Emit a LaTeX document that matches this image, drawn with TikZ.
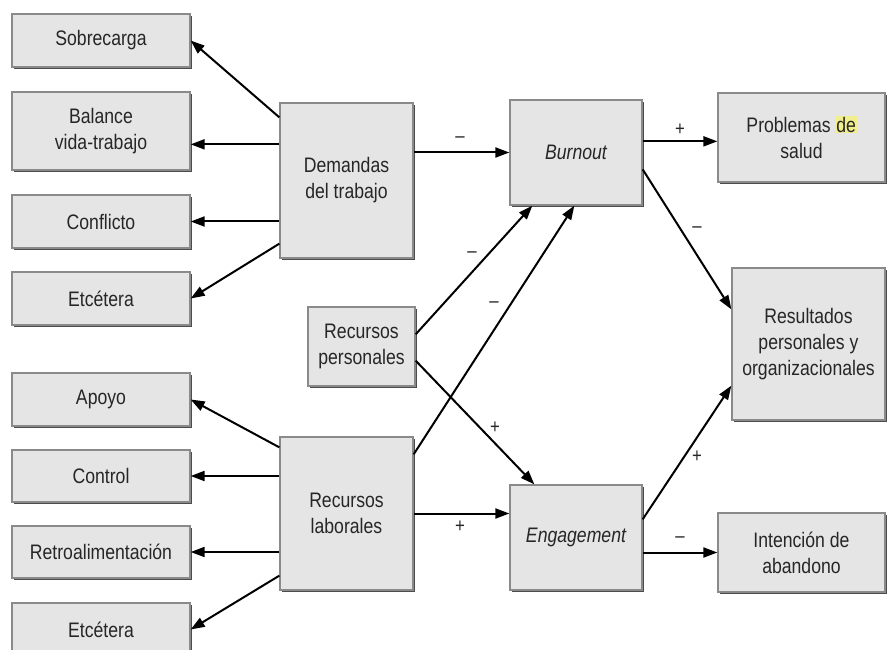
\documentclass[tikz,border=0pt]{standalone}
\usepackage{fontspec}
\setmainfont[FakeStretch=0.84]{Liberation Sans}
\usetikzlibrary{arrows.meta,shadows,calc}
\definecolor{boxfill}{HTML}{E5E5E5}
\definecolor{boxline}{HTML}{8A8A8A}
\definecolor{hl}{HTML}{F2EE8C}
\begin{document}
\begin{tikzpicture}[x=1pt,y=-1pt,
  box/.style={draw=boxline, line width=1.3pt, fill=boxfill, inner sep=0pt, align=center,
    font=\fontsize{21}{26}\selectfont, text=black!85,
    drop shadow={shadow xshift=2.2pt, shadow yshift=-2.2pt, fill=black!70, opacity=1}},
  arr/.style={-{Triangle[length=14pt,width=10pt]}, line width=2pt},
  sg/.style={font=\fontsize{20}{20}\selectfont, inner sep=0pt, text=black!85}]
\useasboundingbox[fill=white] (0,0) rectangle (887,650);
% left column
\node[box, minimum width=178pt, minimum height=53pt] (sob) at (101,40.5) {Sobrecarga};
\node[box, minimum width=178pt, minimum height=78pt] (bal) at (101,131) {Balance\\vida-trabajo};
\node[box, minimum width=178pt, minimum height=53pt] (conf) at (101,221.5) {Conflicto};
\node[box, minimum width=178pt, minimum height=53pt] (etc1) at (101,298.5) {Etcétera};
\node[box, minimum width=178pt, minimum height=53pt] (apoyo) at (101,399.5) {Apoyo};
\node[box, minimum width=178pt, minimum height=52pt] (ctrl) at (101,476) {Control};
\node[box, minimum width=178pt, minimum height=52pt] (retro) at (101,552) {Retroalimentación};
\node[box, minimum width=178pt, minimum height=53pt] (etc2) at (101,629.5) {Etcétera};
% middle
\node[box, minimum width=133pt, minimum height=155pt] (dem) at (346.5,180.5) {Demandas\\del trabajo};
\node[box, minimum width=107pt, minimum height=79pt] (rp) at (361.5,346.5) {Recursos\\personales};
\node[box, minimum width=133pt, minimum height=153pt] (rl) at (346.5,513.5) {Recursos\\laborales};
\node[box, minimum width=132pt, minimum height=105pt] (burn) at (576,152.5) {\itshape Burnout};
\node[box, minimum width=132pt, minimum height=105pt] (eng) at (576,537.5) {\itshape Engagement};
% right
\node[box, minimum width=167pt, minimum height=89pt] (prob) at (801.5,137.5) {Problemas {\setlength\fboxsep{0.6pt}\colorbox{hl}{de}}\\salud};
\node[box, minimum width=153pt, minimum height=152pt] (res) at (808.5,344) {Resultados\\personales y\\organizacionales};
\node[box, minimum width=167pt, minimum height=79pt] (int) at (801.5,552.5) {Intención de\\abandono};
% coordinates
\coordinate (d2) at ([yshift=-42pt]dem.north west);
\coordinate (b1) at ([yshift=-42pt]burn.north east);
% arrows from demandas
\draw[arr] ([yshift=-15pt]dem.north west) -- (sob.east);
\draw[arr] (d2) -- (d2 -| bal.east);
\draw[arr] (dem.west |- conf.east) -- (conf.east);
\draw[arr] ([yshift=15pt]dem.south west) -- (etc1.east);
\draw[arr] (dem.east |- burn.west) -- (burn.west);
% arrows from recursos laborales
\draw[arr] ([yshift=-11pt]rl.north west) -- (apoyo.east);
\draw[arr] (rl.west |- ctrl.east) -- (ctrl.east);
\draw[arr] (rl.west |- retro.east) -- (retro.east);
\draw[arr] ([yshift=15pt]rl.south west) -- (etc2.east);
\draw[arr] (rl.east) -- (rl.east -| eng.west);
\draw[arr] ([yshift=-18pt]rl.north east) -- ([xshift=65pt]burn.south west);
% recursos personales
\draw[arr] ([yshift=-28pt]rp.north east) -- ([xshift=23pt]burn.south west);
\draw[arr] ([yshift=26pt]rp.south east) -- ([xshift=25pt]eng.north west);
% outcomes
\draw[arr] (b1) -- (b1 -| prob.west);
\draw[arr] ([yshift=-70pt]burn.north east) -- ([yshift=-42pt]res.north west);
\draw[arr] ([yshift=-35pt]eng.north east) -- ([yshift=35pt]res.south west);
\draw[arr] (eng.east |- int.west) -- (int.west);
% signs
\node[sg] (s1) at (460,140) {\textendash};
\node[sg] (s2) at (680,130) {+};
\node[sg] (s3) at (697,230) {\textendash};
\node[sg] (s4) at (472,255) {\textendash};
\node[sg] (s5) at (494,305) {\textendash};
\node[sg] (s6) at (495,428) {+};
\node[sg] (s7) at (460,527) {+};
\node[sg] (s8) at (697,457) {+};
\node[sg] (s9) at (680,540) {\textendash};
\end{tikzpicture}
\end{document}
